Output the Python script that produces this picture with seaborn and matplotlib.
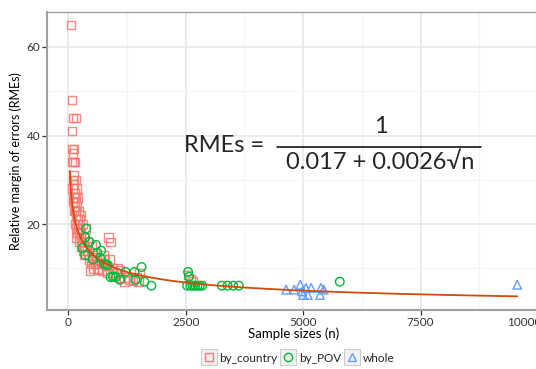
import matplotlib
matplotlib.use("Agg")
import matplotlib.pyplot as plt
import matplotlib.transforms as mtransforms
from matplotlib.lines import Line2D
from matplotlib.patches import Rectangle
import numpy as np
import pandas as pd
import seaborn as sb

# sample sizes (n) and relative margin of errors
country_n = [60, 80, 100, 160, 80, 90, 120, 100, 110, 80, 140, 120, 100, 150, 120,
             170, 130, 160, 200, 100, 140, 180, 220, 120, 160, 260, 200, 240, 140,
             300, 180, 220, 380, 260, 200, 160, 320, 240, 420, 280, 500, 360, 560,
             420, 600, 780, 700, 820, 880, 900, 860, 750, 640, 540, 460, 650, 1000,
             1100, 1200, 1300, 1450, 1500, 1100, 950, 2550, 90, 110, 130, 150, 190,
             210, 230, 270, 290, 340, 400, 440, 480, 520, 580, 620, 680, 720, 800,
             840, 960, 1050, 1250, 1380, 1520, 2600, 2650, 250, 310, 350]
country_rme = [65, 48, 44, 44, 41, 37, 37, 36, 34, 34, 34, 31, 30, 30, 29,
               28, 27, 26, 26, 25, 24, 24, 23, 23, 22, 22, 21, 21, 20,
               20, 19, 19, 19, 18, 18, 17, 17, 16, 16, 15, 15, 14, 13.5,
               13, 12.5, 12, 11, 10.5, 12, 16, 17, 13, 11, 10, 9.5, 9.8, 9,
               8, 7, 7.5, 8, 7, 9.5, 10, 8.5, 28, 26, 25, 23, 21,
               20, 18, 17, 16, 15, 14, 12, 11, 12.5, 11, 10, 12, 9.5, 10.5,
               9, 8.5, 10, 8, 7.2, 9, 7.5, 7, 19, 14, 13]

pov_n = [380, 360, 300, 360, 590, 700, 675, 800, 900, 1010, 1100, 840, 950, 1220,
         1410, 1430, 1560, 1620, 1770, 2550, 2570, 2530, 2600, 2650, 2700, 2750,
         2800, 2850, 3270, 3390, 3510, 3630, 5780, 450, 520, 620, 760]
pov_rme = [19, 17, 14.6, 13, 15.3, 14, 12.4, 10.8, 8, 8, 7.4, 10.8, 8.1, 9.2,
           9.2, 7.4, 10.3, 7, 6.1, 9.2, 8.1, 6.1, 6.1, 6.1, 6.1, 6.1,
           6.1, 6.1, 6.1, 6.1, 6.1, 6.1, 7.0, 16, 12, 13.5, 11]

whole_n = [4640, 4810, 4940, 5000, 5060, 5170, 5380, 5360, 5440, 4980, 5100, 9560]
whole_rme = [5.2, 5.2, 6.3, 4.0, 5.6, 5.6, 5.6, 4.0, 5.2, 4.8, 4.0, 6.3]

# fitted model shown on the chart: RMEs = 1 / (a + b*sqrt(n))
fit_a = 0.017
fit_b = 0.0026

df = pd.concat([
    pd.DataFrame({"n": country_n, "rme": country_rme, "group": "by_country"}),
    pd.DataFrame({"n": pov_n, "rme": pov_rme, "group": "by_POV"}),
    pd.DataFrame({"n": whole_n, "rme": whole_rme, "group": "whole"}),
])

colors = {"by_country": "#F8766D", "by_POV": "#00BA38", "whole": "#619CFF"}
markers = {"by_country": "s", "by_POV": "o", "whole": "^"}

sb.set_theme(style="white")
plt.rcParams["font.family"] = ["Lato", "DejaVu Sans"]

fig = plt.figure(figsize=(5.36, 3.69), dpi=100)
ax = fig.add_axes([47 / 536, 59 / 369, 494 / 536, 298 / 369])

for g in ["by_country", "by_POV", "whole"]:
    sub = df[df["group"] == g]
    sb.scatterplot(x="n", y="rme", data=sub, ax=ax, marker=markers[g], s=38,
                   facecolor="none", edgecolor=colors[g], linewidth=1.0,
                   alpha=0.85 if g == "by_country" else 1.0, legend=False)

curve = pd.DataFrame({"n": np.linspace(30, max(whole_n), 400)})
curve["rme"] = 1 / (fit_a + fit_b * np.sqrt(curve["n"]))
sb.lineplot(x="n", y="rme", data=curve, ax=ax, color="#D24A0C", linewidth=1.3)

ax.set_xlim(-454, 10066)
ax.set_ylim(0.6, 67.9)
ax.set_xticks([0, 2500, 5000, 7500, 10000])
ax.set_yticks([20, 40, 60])
ax.set_xticks([1250, 3750, 6250, 8750], minor=True)
ax.set_yticks([10, 30, 50], minor=True)
ax.grid(True, which="major", color="#E6E6E6", linewidth=1.1)
ax.grid(True, which="minor", color="#F4F4F4", linewidth=0.8)
ax.set_axisbelow(True)
ax.tick_params(axis="both", which="major", direction="out", length=3.5, width=0.9,
               color="#333333", labelsize=8.5, labelcolor="#333333", bottom=True, left=True,
               pad=1.5)
ax.tick_params(axis="both", which="minor", length=0)
for side in ["left", "bottom"]:
    ax.spines[side].set_color("#A0A0A0")
    ax.spines[side].set_linewidth(1.5)
ax.spines["top"].set_color("#A0A0A0")
ax.spines["top"].set_linewidth(1.0)
ax.spines["right"].set_visible(False)

# last x tick label sits against the cut right edge, as in the source image
last = ax.get_xticklabels()[-1]
last.set_transform(last.get_transform() + mtransforms.ScaledTranslation(-14 / 100, 0, fig.dpi_scale_trans))

ax.set_xlabel("Sample sizes (n)", fontsize=9.5, color="black", labelpad=0)
ax.set_ylabel("Relative margin of errors (RMEs)", fontsize=9, color="black", labelpad=3)

# formula annotation
ax.text(2470, 37.8, "RMEs =", fontsize=17, va="center", ha="left")
ax.text(6650, 42.1, "1", fontsize=17, va="center", ha="center")
ax.plot([4440, 8780], [37.4, 37.4], color="black", linewidth=1.1)
ax.text(6650, 34.0, "0.017 + 0.0026\u221an", fontsize=17, va="center", ha="center")

handles = [Line2D([], [], linestyle="none", marker=markers[g], markersize=6,
                  markerfacecolor="none", markeredgecolor=colors[g], markeredgewidth=1.0)
           for g in colors]
leg = fig.legend(handles, list(colors), loc="center", bbox_to_anchor=(298 / 536, 11 / 369),
                 ncol=3, frameon=False, fontsize=8.5, handlelength=1.2, handletextpad=0.3,
                 columnspacing=0.3)

fig.canvas.draw()
inv = fig.transFigure.inverted()
for h in leg.legend_handles:
    bb = h.get_window_extent(fig.canvas.get_renderer())
    cx, cy = (bb.x0 + bb.x1) / 2, (bb.y0 + bb.y1) / 2
    (x0, y0) = inv.transform((cx - 8, cy - 8))
    (x1, y1) = inv.transform((cx + 8, cy + 8))
    fig.patches.append(Rectangle((x0, y0), x1 - x0, y1 - y0, transform=fig.transFigure,
                                 facecolor="#F2F2F2", edgecolor="#CCCCCC", linewidth=0.8,
                                 zorder=-1))

fig.savefig("out.png", dpi=100)
